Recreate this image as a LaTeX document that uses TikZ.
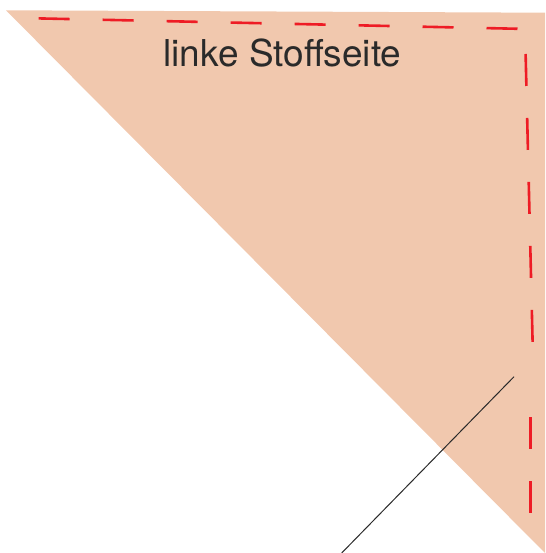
\documentclass[tikz,border=0pt]{standalone}
\usepackage{fontspec}
\setmainfont{TeX Gyre Heros}
\usepackage{tikz}
\definecolor{stoff}{HTML}{F1C8AE}
\definecolor{naht}{HTML}{EE1C25}
\definecolor{schrift}{HTML}{2A2A2A}
\tikzset{
	nahtlinie/.style={draw=naht, line width=2.6pt, dash pattern=on 31pt off 33pt},
	schnitt/.style={draw=schrift, line width=1pt}
}
\begin{document}
\begin{tikzpicture}[x=1pt,y=-1pt]
		\useasboundingbox (0,0) rectangle (545,553);

		% Stoff
		\fill[stoff] (6,10.3) -- (545,12.7) -- (545,553) -- cycle;

		% Naht
		\draw[nahtlinie] (38.6,18.4) -- (518.5,28.8);
		\draw[nahtlinie, dash pattern=on 32pt off 32pt] (525.6,54) -- (532.6,342);
		\draw[nahtlinie, dash pattern=on 32pt off 32pt] (530.3,417) -- (530.3,513);

		\draw[schnitt] (341.7,553) -- (514,376.7);

		\node[anchor=base, text=schrift, font=\fontsize{37}{40}\selectfont] (seite) at (282.5,67) {linke Stoffseite};
	\end{tikzpicture}
\end{document}
